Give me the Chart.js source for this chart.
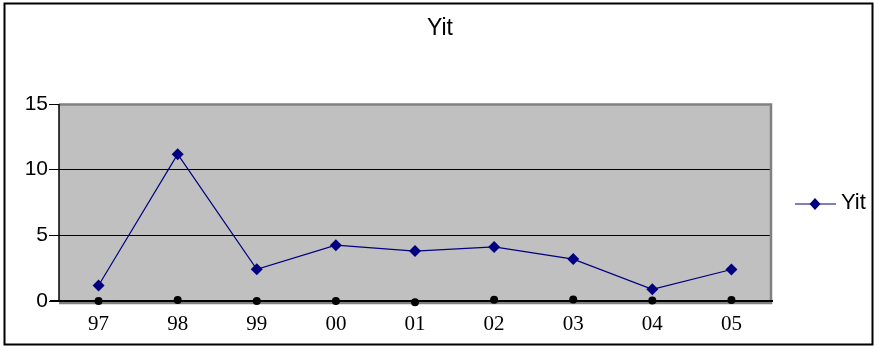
<!DOCTYPE html>
<html>
<head>
<meta charset="utf-8">
<script src="https://cdn.jsdelivr.net/npm/chart.js@4/dist/chart.umd.min.js"></script>
<style>
html,body{margin:0;padding:0;background:#fff;}
#wrap{width:879px;height:352px;position:relative;}
</style>
</head>
<body>
<div id="wrap"><canvas id="c" width="879" height="352"></canvas></div>
<script>
const categories = ["97","98","99","00","01","02","03","04","05"];
const yitValues = [1.18, 11.18, 2.42, 4.25, 3.8, 4.12, 3.19, 0.89, 2.4];
const baseValues = [0, 0.08, 0, 0, -0.1, 0.1, 0.12, 0.03, 0.07];
const yTicks = [0, 5, 10, 15];
const titleText = "Yit";
const seriesName = "Yit";

const frame = {
  id: 'frame',
  beforeDraw(chart) {
    const {ctx, chartArea: a} = chart;
    ctx.save();
    ctx.fillStyle = '#fff';
    ctx.fillRect(0, 0, chart.width, chart.height);
    ctx.fillStyle = '#c0c0c0';
    ctx.fillRect(a.left, a.top, a.right - a.left, a.bottom - a.top + 2);
    ctx.restore();
  },
  beforeDatasetsDraw(chart) {
    const {ctx, chartArea: a, scales} = chart;
    const y0 = scales.y.getPixelForValue(0);
    ctx.save();
    ctx.strokeStyle = '#808080';
    ctx.lineWidth = 2.5;
    ctx.beginPath();
    ctx.moveTo(a.left, a.top + 0.5);
    ctx.lineTo(a.right, a.top + 0.5);
    ctx.lineTo(a.right, a.bottom + 2);
    ctx.lineTo(a.left, a.bottom + 2);
    ctx.stroke();
    ctx.strokeStyle = '#000';
    ctx.lineWidth = 1.5;
    ctx.beginPath();
    ctx.moveTo(a.left, a.top);
    ctx.lineTo(a.left, y0);
    ctx.stroke();
    ctx.lineWidth = 2;
    ctx.beginPath();
    ctx.moveTo(a.left - 9, y0);
    ctx.lineTo(a.right + 2, y0);
    ctx.stroke();
    ctx.restore();
  },
  afterDraw(chart) {
    const {ctx} = chart;
    ctx.save();
    ctx.strokeStyle = '#000';
    ctx.lineWidth = 2;
    ctx.strokeRect(4.5, 3.5, 868, 341);
    ctx.fillStyle = '#000';
    ctx.font = '23px "Liberation Sans", Arial, sans-serif';
    ctx.textAlign = 'center';
    ctx.textBaseline = 'middle';
    ctx.fillText(titleText, 440, 29);
    const ly = 204;
    ctx.strokeStyle = '#000080';
    ctx.lineWidth = 1.2;
    ctx.beginPath();
    ctx.moveTo(795, ly);
    ctx.lineTo(836, ly);
    ctx.stroke();
    ctx.fillStyle = '#000080';
    ctx.beginPath();
    ctx.moveTo(815 - 5.5, ly);
    ctx.lineTo(815, ly - 6);
    ctx.lineTo(815 + 5.5, ly);
    ctx.lineTo(815, ly + 6);
    ctx.closePath();
    ctx.fill();
    ctx.fillStyle = '#000';
    ctx.font = '22px "Liberation Sans", Arial, sans-serif';
    ctx.textBaseline = 'middle';
    ctx.textAlign = 'left';
    ctx.fillText(seriesName, 841, ly - 1);
    ctx.restore();
  }
};

new Chart(document.getElementById('c'), {
  type: 'line',
  data: {
    labels: categories,
    datasets: [
      {
        label: seriesName,
        data: yitValues,
        borderColor: '#000080',
        backgroundColor: '#000080',
        borderWidth: 1.2,
        pointStyle: 'rectRot',
        pointRadius: 6,
        pointBorderWidth: 0,
        pointBackgroundColor: '#000080',
        tension: 0,
        clip: false
      },
      {
        label: '',
        data: baseValues,
        showLine: false,
        pointStyle: 'circle',
        pointRadius: 4,
        pointBorderWidth: 0,
        pointBackgroundColor: '#000',
        borderColor: '#000',
        clip: false
      }
    ]
  },
  options: {
    responsive: false,
    animation: false,
    devicePixelRatio: 1,
    layout: {padding: {left: 0, right: 108, top: 104, bottom: 0}},
    plugins: {
      legend: {display: false},
      tooltip: {enabled: false},
      title: {display: false}
    },
    scales: {
      x: {
        type: 'category',
        offset: true,
        grid: {display: false},
        border: {display: false},
        ticks: {
          color: '#000',
          font: {family: '"Liberation Serif", "Times New Roman", serif', size: 21},
          padding: 3,
          maxRotation: 0,
          autoSkip: false
        },
        afterFit(s) { s.height = 51; }
      },
      y: {
        min: 0,
        max: 15,
        afterBuildTicks(s) { s.ticks = yTicks.map(v => ({value: v})); },
        grid: {color: '#000', lineWidth: 1, tickLength: 10, tickColor: '#000', drawTicks: true},
        border: {display: false},
        ticks: {
          color: '#000',
          font: {family: '"Liberation Sans", Arial, sans-serif', size: 21},
          padding: 1
        },
        afterFit(s) { s.width = 59; }
      }
    }
  },
  plugins: [frame]
});
</script>
</body>
</html>
